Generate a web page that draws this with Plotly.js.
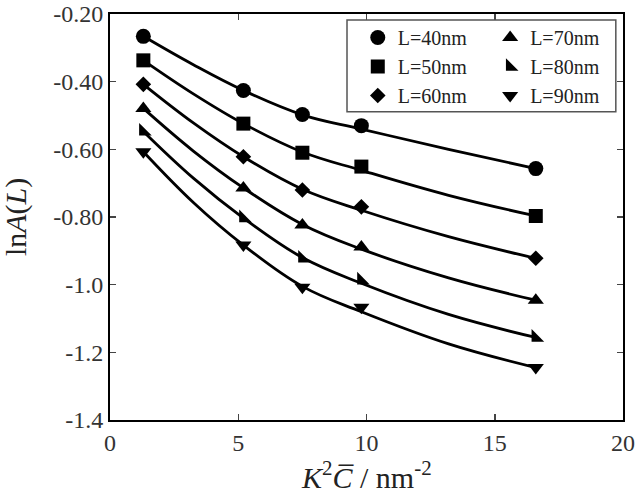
<!DOCTYPE html>
<html>
<head>
<meta charset="utf-8">
<script src="https://cdn.plot.ly/plotly-3.0.1.min.js"></script>
<style>html,body{margin:0;padding:0;background:#fff;}#chart{width:639px;height:497px;}</style>
</head>
<body>
<div id="chart"></div>
<script>
const xValues = [1.3, 5.2, 7.5, 9.8, 16.6];
const seriesNames = ["L=40nm", "L=50nm", "L=60nm", "L=70nm", "L=80nm", "L=90nm"];
const yL40 = [-0.266, -0.426, -0.497, -0.530, -0.657];
const yL50 = [-0.337, -0.524, -0.610, -0.651, -0.797];
const yL60 = [-0.408, -0.622, -0.720, -0.770, -0.922];
const yL70 = [-0.479, -0.714, -0.824, -0.889, -1.046];
const yL80 = [-0.547, -0.803, -0.922, -0.987, -1.156];
const yL90 = [-0.607, -0.883, -1.008, -1.067, -1.245];
// Fitted curves
const xFit = [1.3, 3.25, 5.2, 7.5, 9.8, 13.2, 16.6];
const fitL40 = [-0.266, -0.350, -0.426, -0.498, -0.540, -0.600, -0.657];
const fitL50 = [-0.337, -0.436, -0.524, -0.608, -0.662, -0.736, -0.797];
const fitL60 = [-0.408, -0.522, -0.622, -0.718, -0.780, -0.858, -0.922];
const fitL70 = [-0.479, -0.605, -0.714, -0.822, -0.895, -0.980, -1.046];
const fitL80 = [-0.547, -0.685, -0.803, -0.920, -0.996, -1.088, -1.156];
const fitL90 = [-0.607, -0.757, -0.883, -1.005, -1.080, -1.175, -1.245];
const yTickVals = [-0.2, -0.4, -0.6, -0.8, -1.0, -1.2, -1.4];
const yTickText = ["-0.20", "-0.40", "-0.60", "-0.80", "-1.0", "-1.2", "-1.4"];
const xTickVals = [0, 5, 10, 15, 20];
const xTitle = "<i>K</i><sup>2</sup><i>C\u0305</i> / nm<sup>-2</sup>";
const yTitle = "ln<i>A</i>(<i>L</i>)";

const allY = [yL40, yL50, yL60, yL70, yL80, yL90];
const allFit = [fitL40, fitL50, fitL60, fitL70, fitL80, fitL90];
const symbols = ["circle", "square", "diamond", "triangle-up", "triangle-sw", "triangle-down"];
const legendOf = ["legend", "legend", "legend", "legend2", "legend2", "legend2"];
const sizes = [15, 14, 12, 14, 14, 14];

const lineTraces = allFit.map((ys) => ({
  x: xFit, y: ys, type: "scatter", mode: "lines", showlegend: false, hoverinfo: "skip",
  line: {color: "#000", width: 2.8, shape: "spline", smoothing: 1.1}
}));
const markerTraces = allY.map((ys, i) => ({
  x: xValues, y: ys, name: seriesNames[i], type: "scatter", mode: "markers",
  marker: {symbol: symbols[i], size: sizes[i], color: "#000"},
  legend: legendOf[i]
}));

const serif = "Liberation Serif, Times New Roman, serif";
const layout = {
  width: 639, height: 497,
  margin: {l: 110, r: 16, t: 14, b: 77},
  paper_bgcolor: "#fff", plot_bgcolor: "#fff",
  font: {family: serif, color: "#222"},
  xaxis: {
    range: [0, 20], tickvals: xTickVals, ticks: "inside", ticklen: 6, tickwidth: 1.5,
    showline: true, linewidth: 2, linecolor: "#000", mirror: "ticks", showgrid: false, zeroline: false,
    tickfont: {size: 24, family: serif, color: "#333"}
  },
  yaxis: {
    range: [-1.4, -0.2], tickvals: yTickVals, ticktext: yTickText, ticks: "inside", ticklen: 6, tickwidth: 1.5,
    showline: true, linewidth: 2, linecolor: "#000", mirror: "ticks", showgrid: false, zeroline: false,
    tickfont: {size: 24, family: serif, color: "#333"}
  },
  annotations: [
    {text: xTitle, xref: "paper", yref: "paper", x: 0.5, y: -0.187, xanchor: "center", yanchor: "bottom",
      showarrow: false, font: {size: 30, family: serif, color: "#222"}},
    {text: yTitle, xref: "paper", yref: "paper", x: -0.183, y: 0.5, xanchor: "center", yanchor: "middle",
      textangle: -90, showarrow: false, font: {size: 30, family: serif, color: "#222"}}
  ],
  legend: {x: 0.483, y: 0.99, xanchor: "left", yanchor: "top", bgcolor: "rgba(0,0,0,0)",
    font: {size: 20, family: serif, color: "#222"}, tracegroupgap: 0, itemwidth: 30},
  legend2: {x: 0.741, y: 0.99, xanchor: "left", yanchor: "top", bgcolor: "rgba(0,0,0,0)",
    font: {size: 20, family: serif, color: "#222"}, tracegroupgap: 0, itemwidth: 30},
  shapes: [{type: "rect", xref: "paper", yref: "paper", x0: 0.462, x1: 0.986, y0: 0.759, y1: 0.985,
    line: {color: "#555", width: 1.5}}],
  showlegend: true
};

Plotly.newPlot("chart", lineTraces.concat(markerTraces), layout, {staticPlot: true, displayModeBar: false});
</script>
</body>
</html>
